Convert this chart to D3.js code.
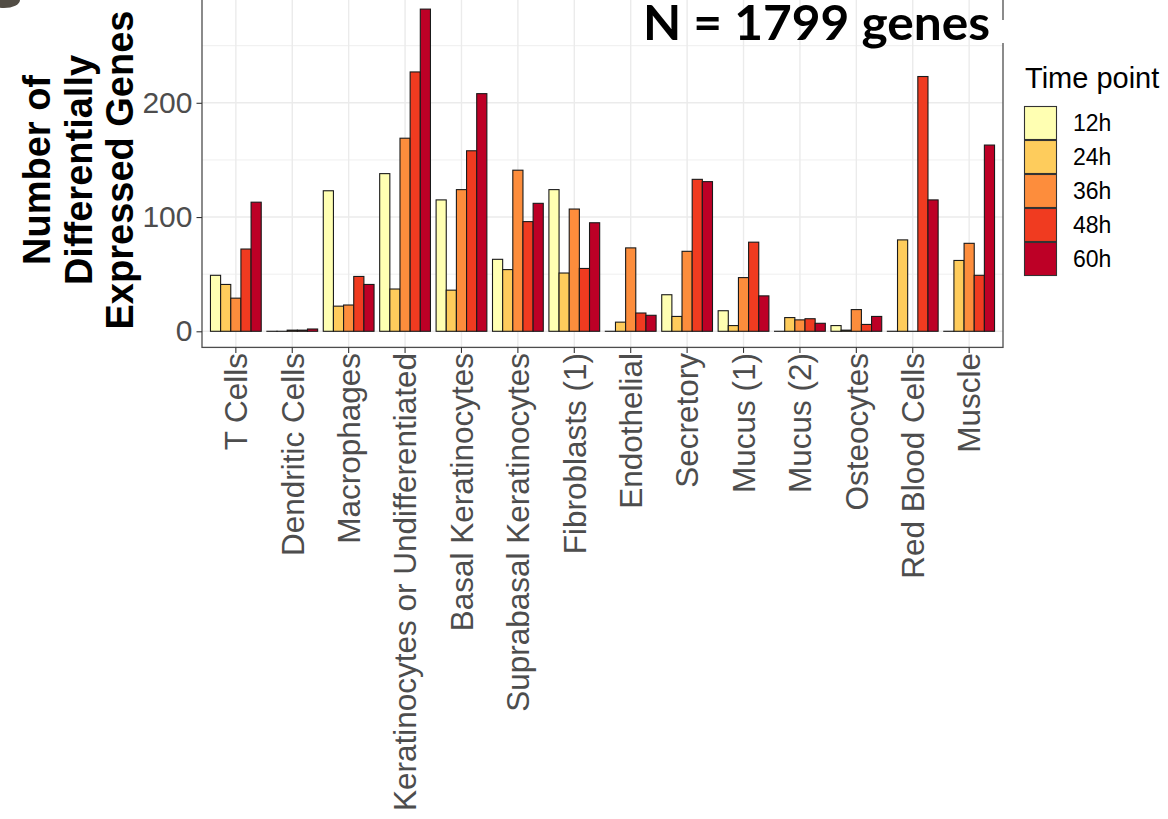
<!DOCTYPE html>
<html>
<head>
<meta charset="utf-8">
<script src="https://cdn.jsdelivr.net/npm/d3@7"></script>
<style>
  html, body { margin: 0; padding: 0; background: #fff; }
  svg { display: block; }
</style>
</head>
<body>
<svg id="chart" width="1168" height="819"></svg>
<script>
// Cell types on the x axis
const categories = [
  "T Cells", "Dendritic Cells", "Macrophages", "Keratinocytes or Undifferentiated",
  "Basal Keratinocytes", "Suprabasal Keratinocytes", "Fibroblasts (1)", "Endothelial",
  "Secretory", "Mucus (1)", "Mucus (2)", "Osteocytes", "Red Blood Cells", "Muscle"
];

// Time points (legend order)
const timePoints = ["12h", "24h", "36h", "48h", "60h"];

// Number of differentially expressed genes per time point
const h12 = [49, 0, 123, 138, 115, 63, 124, 0, 32, 18, 0, 5, 0, 0];
const h24 = [41, 0, 22, 37, 36, 54, 51, 8, 13, 5, 12, 1, 80, 62];
const h36 = [29, 1, 23, 169, 124, 141, 107, 73, 70, 47, 10, 19, 0, 77];
const h48 = [72, 1, 48, 227, 158, 96, 55, 16, 133, 78, 11, 6, 223, 49];
const h60 = [113, 2, 41, 282, 208, 112, 95, 14, 131, 31, 7, 13, 115, 163];

// Axis ticks
const yMajorTicks = [0, 100, 200];
const yMinorTicks = [50, 150, 250];

const seriesValues = [h12, h24, h36, h48, h60];
const palette = ["#FFFFB2", "#FECC5C", "#FD8D3C", "#F03B20", "#BD0026"];

const rows = [];
categories.forEach((c, i) => {
  timePoints.forEach((t, j) => rows.push({ cat: c, tp: t, value: seriesValues[j][i] }));
});

const svg = d3.select("#chart");
const FONT = "'Liberation Sans', Arial, Helvetica, sans-serif";

// Panel geometry
const panel = { left: 202, right: 1003, top: -7, bottom: 347.4 };

const maxVal = d3.max(rows, d => d.value);
const y = d3.scaleLinear()
  .domain([-0.05 * maxVal, 1.05 * maxVal])
  .range([panel.bottom, panel.top]);

const x = d3.scaleBand()
  .domain(categories)
  .range([panel.left, panel.right])
  .paddingInner(0.1)
  .paddingOuter(0.15);

const xSub = d3.scaleBand()
  .domain(timePoints)
  .range([0, x.bandwidth()]);

const color = d3.scaleOrdinal().domain(timePoints).range(palette);

// Decorative fragment in the top-left corner
svg.append("ellipse")
  .attr("cx", 4).attr("cy", 0).attr("rx", 16).attr("ry", 8)
  .attr("fill", "#3f3a31").attr("opacity", 0.9);

// Grid
const grid = svg.append("g");
grid.selectAll("line.minor").data(yMinorTicks).join("line")
  .attr("x1", panel.left).attr("x2", panel.right)
  .attr("y1", d => y(d)).attr("y2", d => y(d))
  .attr("stroke", "#EBEBEB").attr("stroke-width", 0.8);
grid.selectAll("line.major").data(yMajorTicks).join("line")
  .attr("x1", panel.left).attr("x2", panel.right)
  .attr("y1", d => y(d)).attr("y2", d => y(d))
  .attr("stroke", "#EBEBEB").attr("stroke-width", 1.4);
grid.selectAll("line.vmajor").data(categories).join("line")
  .attr("x1", d => x(d) + x.bandwidth() / 2).attr("x2", d => x(d) + x.bandwidth() / 2)
  .attr("y1", panel.top).attr("y2", panel.bottom)
  .attr("stroke", "#EBEBEB").attr("stroke-width", 1.4);

// Bars
svg.append("g").selectAll("rect").data(rows).join("rect")
  .attr("x", d => x(d.cat) + xSub(d.tp))
  .attr("width", xSub.bandwidth())
  .attr("y", d => y(d.value))
  .attr("height", d => Math.max(y(0) - y(d.value), 0.01))
  .attr("fill", d => color(d.tp))
  .attr("stroke", "#1a1a1a")
  .attr("stroke-width", 1.1);

// Panel border
svg.append("rect")
  .attr("x", panel.left).attr("y", panel.top)
  .attr("width", panel.right - panel.left).attr("height", panel.bottom - panel.top)
  .attr("fill", "none").attr("stroke", "#4d4d4d").attr("stroke-width", 1.3);

// Y axis
const yAxis = svg.append("g")
  .attr("transform", `translate(${panel.left},0)`)
  .call(d3.axisLeft(y).tickValues(yMajorTicks).tickSize(5.5).tickPadding(4));
yAxis.select(".domain").remove();
yAxis.selectAll(".tick line").attr("stroke", "#333").attr("stroke-width", 1.1);
yAxis.selectAll(".tick text")
  .attr("font-family", FONT).attr("font-size", 30).attr("fill", "#4D4D4D");

// X axis
const xAxis = svg.append("g")
  .attr("transform", `translate(0,${panel.bottom})`)
  .call(d3.axisBottom(x).tickSize(5.5).tickSizeOuter(0));
xAxis.select(".domain").remove();
xAxis.selectAll(".tick line").attr("stroke", "#333").attr("stroke-width", 1.1);
xAxis.selectAll(".tick text")
  .attr("font-family", FONT).attr("font-size", 31.5).attr("fill", "#4D4D4D")
  .attr("text-anchor", "end")
  .attr("transform", "rotate(-90)")
  .attr("x", -5.5)
  .attr("y", 0)
  .attr("dy", "0.36em");

// Y axis title
const yTitle = svg.append("text")
  .attr("transform", "translate(50,170) rotate(-90)")
  .attr("text-anchor", "middle")
  .attr("font-family", FONT).attr("font-weight", "bold").attr("font-size", 38)
  .attr("fill", "#000");
["Number of", "Differentially", "Expressed Genes"].forEach((line, i) => {
  yTitle.append("tspan").attr("x", 0).attr("dy", i === 0 ? 0 : 41.5).text(line);
});

// Gene count annotation
svg.append("rect")
  .attr("x", 997).attr("y", 20).attr("width", 10).attr("height", 23)
  .attr("fill", "#fff");
svg.append("text")
  .attr("x", 643).attr("y", 40)
  .attr("font-family", "Lato, 'Open Sans', sans-serif")
  .attr("font-weight", "bold").attr("font-size", 47)
  .attr("textLength", 347).attr("lengthAdjust", "spacingAndGlyphs")
  .attr("fill", "#000")
  .text("N = 1799 genes");

// Legend
const legend = svg.append("g").attr("transform", "translate(1024,0)");
legend.append("text")
  .attr("x", 1).attr("y", 88)
  .attr("font-family", FONT).attr("font-size", 29).attr("fill", "#000")
  .text("Time point");
const keyH = 34, keyW = 33, keyTop = 106;
const keys = legend.selectAll("g.key").data(timePoints).join("g")
  .attr("transform", (d, i) => `translate(0,${keyTop + i * keyH})`);
keys.append("rect")
  .attr("x", 0.5).attr("y", 0.5)
  .attr("width", keyW - 1).attr("height", keyH - 1)
  .attr("fill", d => color(d))
  .attr("stroke", "#333").attr("stroke-width", 1.1);
keys.append("text")
  .attr("x", 49).attr("y", keyH / 2)
  .attr("dy", "0.36em")
  .attr("font-family", FONT).attr("font-size", 23).attr("fill", "#000")
  .text(d => d);
</script>
</body>
</html>
